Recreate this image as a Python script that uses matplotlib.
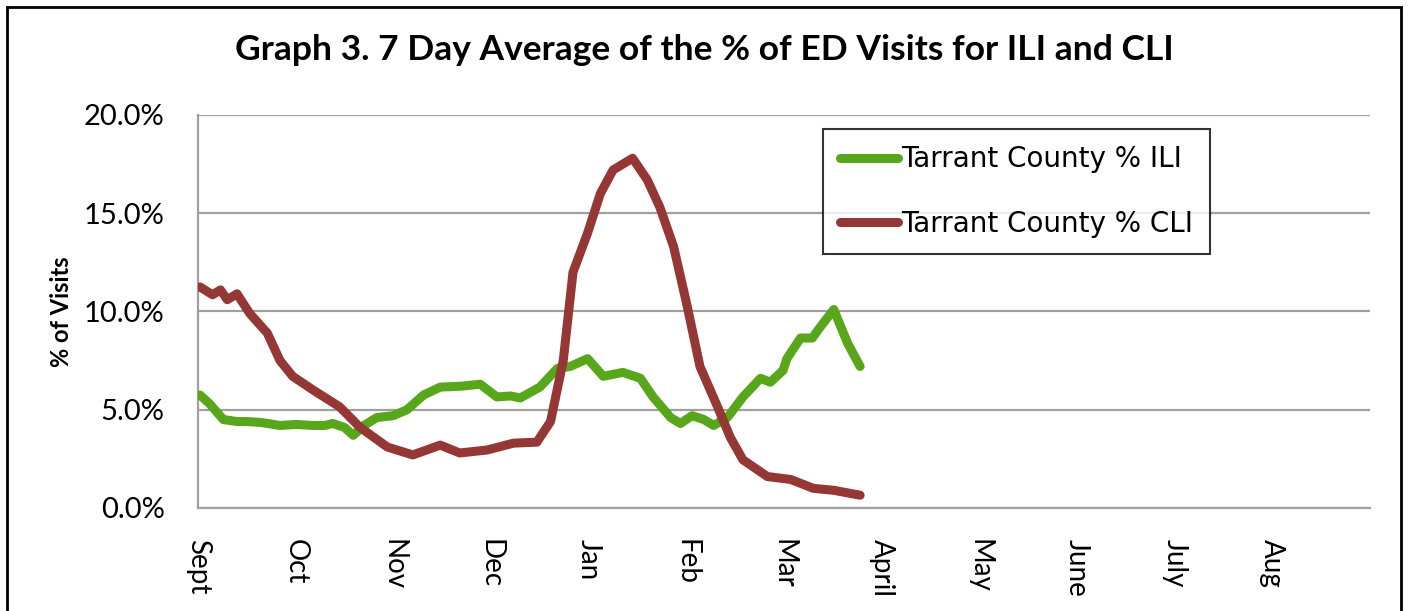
import matplotlib.pyplot as plt
from matplotlib.patches import Rectangle

# x positions are in months from Sept 1 (0 = Sept, 12 = end of Aug)
months = ['Sept', 'Oct', 'Nov', 'Dec', 'Jan', 'Feb', 'Mar', 'April',
          'May', 'June', 'July', 'Aug']

ili_x = [0.02, 0.12, 0.26, 0.40, 0.50, 0.65, 0.84, 1.00, 1.18, 1.30, 1.38,
         1.50, 1.59, 1.70, 1.83, 2.00, 2.14, 2.31, 2.48, 2.70, 2.89, 3.06,
         3.20, 3.30, 3.50, 3.68, 3.81, 3.99, 4.15, 4.35, 4.53, 4.66, 4.84,
         4.94, 5.06, 5.18, 5.28, 5.42, 5.58, 5.76, 5.86, 5.99, 6.03, 6.17,
         6.29, 6.37, 6.51, 6.65, 6.78]
ili_y = [5.75, 5.3, 4.5, 4.4, 4.4, 4.35, 4.2, 4.25, 4.2, 4.2, 4.3,
         4.1, 3.7, 4.2, 4.6, 4.7, 5.0, 5.75, 6.15, 6.2, 6.3, 5.65,
         5.7, 5.6, 6.15, 7.1, 7.2, 7.6, 6.7, 6.9, 6.6, 5.65, 4.6,
         4.3, 4.7, 4.5, 4.2, 4.6, 5.65, 6.6, 6.4, 7.0, 7.6, 8.65,
         8.65, 9.2, 10.1, 8.4, 7.2]

cli_x = [0.02, 0.15, 0.23, 0.30, 0.40, 0.53, 0.71, 0.84, 0.97, 1.18, 1.45,
         1.66, 1.94, 2.20, 2.48, 2.68, 2.96, 3.23, 3.47, 3.61, 3.74, 3.84,
         3.99, 4.12, 4.25, 4.45, 4.60, 4.73, 4.87, 5.01, 5.14, 5.32, 5.45,
         5.58, 5.83, 6.07, 6.30, 6.51, 6.78]
cli_y = [11.25, 10.85, 11.1, 10.6, 10.9, 9.9, 8.9, 7.5, 6.7, 6.0, 5.15,
         4.1, 3.1, 2.7, 3.2, 2.8, 2.95, 3.3, 3.35, 4.4, 7.5, 12.0,
         14.0, 16.0, 17.2, 17.8, 16.7, 15.3, 13.3, 10.25, 7.2, 5.15, 3.6,
         2.45, 1.6, 1.45, 1.0, 0.9, 0.65]

yticks = [0, 5, 10, 15, 20]

green = '#58A61A'
red = '#953735'

fig = plt.figure(figsize=(14.09, 6.11), dpi=100)
ax = fig.add_axes([0.1405, 0.1686, 0.8318, 0.6432])

ax.plot(ili_x, ili_y, color=green, lw=6.5, solid_capstyle='round',
        solid_joinstyle='round', label='Tarrant County % ILI', zorder=3)
ax.plot(cli_x, cli_y, color=red, lw=6.5, solid_capstyle='round',
        solid_joinstyle='round', label='Tarrant County % CLI', zorder=3)

ax.set_xlim(0, 12)
ax.set_ylim(0, 20)
ax.set_yticks(yticks)
ax.set_yticklabels([f'{v:.1f}%' for v in yticks], fontsize=21, family='Lato')
ax.set_xticks(range(12))
ax.set_xticklabels(months, rotation=270, fontsize=20, family='Lato',
                   va='top', ha='center')
ax.tick_params(axis='both', length=0)
ax.tick_params(axis='y', pad=24)
ax.tick_params(axis='x', pad=22)

ax.grid(axis='y', color='#A0A0A0', lw=1.6)
ax.set_axisbelow(True)
for s in ['top', 'right']:
    ax.spines[s].set_visible(False)
for s in ['left', 'bottom']:
    ax.spines[s].set_color('#A0A0A0')
    ax.spines[s].set_linewidth(1.6)

ax.set_ylabel('% of Visits', fontsize=17, fontweight='bold', family='Lato',
              labelpad=8)

leg = ax.legend(loc='upper left', bbox_to_anchor=(0.5335, 0.965), fontsize=20,
                frameon=True, fancybox=False, handlelength=2.1,
                handletextpad=0.1, labelspacing=1.3, borderpad=0.6,
                borderaxespad=0)
leg.get_frame().set_edgecolor('black')
leg.get_frame().set_linewidth(1.5)

fig.suptitle('Graph 3. 7 Day Average of the % of ED Visits for ILI and CLI',
             x=0.5, y=0.945, fontsize=25.5, fontweight='bold', family='Lato')

# chart border
fig.patches.append(Rectangle((0.005, -0.1), 0.989, 1.088, transform=fig.transFigure,
                             fill=False, edgecolor='black', lw=2))

fig.savefig('out.png', dpi=100)
